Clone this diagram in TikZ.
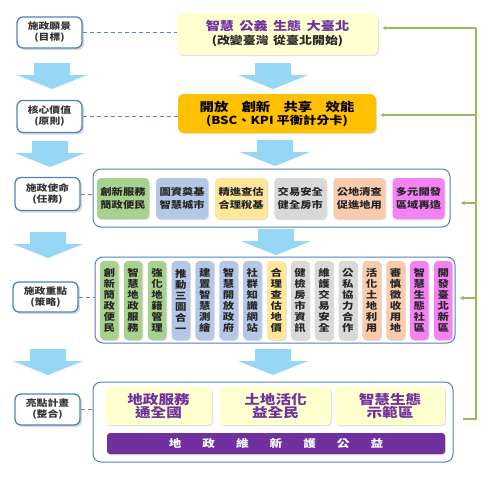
\documentclass[tikz,border=0pt]{standalone}
\usepackage{fontspec}
\setmainfont{Noto Sans CJK TC}[FakeStretch=1.2]
\usetikzlibrary{shadows,arrows.meta}

\definecolor{labelblue}{RGB}{79,129,189}
\definecolor{dashblue}{RGB}{100,130,190}
\definecolor{arrowblue}{RGB}{150,215,245}
\definecolor{gline}{RGB}{155,187,89}
\definecolor{visionfill}{RGB}{255,255,208}
\definecolor{valuesfill}{RGB}{255,192,0}
\definecolor{vpurple}{RGB}{112,48,160}
\definecolor{cgreen}{RGB}{169,209,142}
\definecolor{cblue}{RGB}{180,199,231}
\definecolor{cyellow}{RGB}{255,230,153}
\definecolor{cgray}{RGB}{217,217,217}
\definecolor{corange}{RGB}{248,203,173}
\definecolor{cpink}{RGB}{245,130,245}

% big light blue arrow pointing down: centre x, top y
\newcommand{\bigdown}[2]{%
  \fill[arrowblue] ({#1-18},#2) -- ({#1+18},#2) -- ({#1+18},{#2+12}) -- ({#1+35},{#2+12})
    -- (#1,{#2+26}) -- ({#1-35},{#2+12}) -- ({#1-18},{#2+12}) -- cycle;}

\begin{document}
\begin{tikzpicture}[x=1pt,y=-1pt,
  lab/.style={draw=labelblue, line width=1.3pt, rounded corners=6pt, fill=white,
    minimum width=65pt, inner sep=0pt, align=center, text=black!80,
    font=\bfseries\fontsize{9}{11}\selectfont,
    drop shadow={shadow xshift=2pt, shadow yshift=-2pt, fill=black!30}},
  frame/.style={draw=labelblue, line width=1pt, rounded corners=8pt, fill=white, inner sep=0pt},
  tile/.style={rounded corners=4pt, inner sep=0pt, align=center, text=black!85,
    drop shadow={shadow xshift=1pt, shadow yshift=-1pt, fill=black!25}},
  link/.style={dashblue, line width=0.9pt, dash pattern=on 4pt off 3pt},
  back/.style={gline, line width=1.5pt, -{Latex[length=4pt,width=4.5pt]}},
]
  \useasboundingbox (0,0) rectangle (496,479);

  \bigdown{52}{63}
  \bigdown{273}{63}
  \bigdown{50}{141}
  \bigdown{275}{140}
  \bigdown{48}{232}
  \bigdown{276}{229}
  \bigdown{48}{349}
  \bigdown{273}{349}

  \node[lab, minimum height=31pt] (lb1) at (49.5,32.5) {施政願景\\(目標)};
  \node[lab, minimum height=32pt] (lb2) at (49.5,116.5) {核心價值\\(原則)};
  \node[lab, minimum height=33pt] (lb3) at (47.5,194) {施政使命\\(任務)};
  \node[lab, minimum height=30pt] (lb4) at (45.5,297) {施政重點\\(策略)};
  \node[lab, minimum height=31pt] (lb5) at (47.5,409.5) {亮點計畫\\(整合)};

  \node[tile, fill=visionfill, rounded corners=6pt, minimum width=201pt, minimum height=42pt,
    font=\bfseries\fontsize{10.8}{12}\selectfont] (vision) at (277.5,34)
    {{\color{vpurple}\fontsize{11.8}{13}\selectfont 智慧\hspace{0.45em}公義\hspace{0.45em}生態\hspace{0.45em}大臺北}\\[2pt]
     (改變臺灣\hspace{0.4em}從臺北開始)};
  \node[tile, fill=valuesfill, text=black, rounded corners=6pt, minimum width=198pt, minimum height=39pt,
    font=\bfseries\fontsize{11}{12}\selectfont] (values) at (277,113.5)
    {{\fontsize{12}{13}\selectfont 開放\hspace{1.1em}創新\hspace{1.1em}共享\hspace{1.1em}效能}\\[1pt]
     (BSC、KPI 平衡計分卡)};

  \node[frame, minimum width=357pt, minimum height=58pt] (mission) at (271.5,198) {};
  \foreach \txt/\col [count=\i from 0] in {創新服務\\簡政便民/cgreen, 圖資奠基\\智慧城市/cblue,
      精進查估\\合理稅基/cyellow, 交易安全\\健全房市/cgray, 公地清查\\促進地用/corange,
      多元開發\\區域再造/cpink}
    \node[tile, fill=\col, minimum width=52pt, minimum height=41pt,
      font=\bfseries\fontsize{9.4}{13}\selectfont] (m\i) at ({123+59.1*\i},198.5) {\txt};

  \node[frame, minimum width=360pt, minimum height=86pt] (strategy) at (275,300) {};
  \foreach \txt/\col [count=\i from 0] in {創\\新\\簡\\政\\便\\民/cgreen, 智\\慧\\地\\政\\服\\務/cgreen,
      強\\化\\地\\籍\\管\\理/cgreen, 推\\動\\三\\圖\\合\\一/cblue, 建\\置\\智\\慧\\測\\繪/cblue,
      智\\慧\\開\\放\\政\\府/cblue, 社\\群\\知\\識\\網\\站/cblue, 合\\理\\查\\估\\地\\價/cyellow,
      健\\檢\\房\\市\\資\\訊/cgray, 維\\護\\交\\易\\安\\全/cgray, 公\\私\\協\\力\\合\\作/cgray,
      活\\化\\土\\地\\利\\用/corange, 審\\慎\\徵\\收\\用\\地/corange, 智\\慧\\生\\態\\社\\區/cpink,
      開\\發\\臺\\北\\新\\區/cpink}
    \node[tile, fill=\col, minimum width=18.5pt, minimum height=79pt,
      font=\bfseries\fontsize{9.5}{11}\selectfont] (s\i) at ({109.3+23.85*\i},300.5) {\txt};

  \node[frame, minimum width=360pt, minimum height=80pt] (plans) at (273,422) {};
  \node[tile, fill=visionfill, text=vpurple, minimum width=107pt, minimum height=38pt,
    font=\bfseries\fontsize{13}{12.5}\selectfont] (p1) at (158.5,406) {地政服務\\通全國};
  \node[tile, fill=visionfill, text=vpurple, minimum width=111pt, minimum height=38pt,
    font=\bfseries\fontsize{13}{12.5}\selectfont] (p2) at (275.5,406) {土地活化\\益全民};
  \node[tile, fill=visionfill, text=vpurple, minimum width=110pt, minimum height=38pt,
    font=\bfseries\fontsize{13}{12.5}\selectfont] (p3) at (390,406) {智慧生態\\示範區};
  \node[tile, fill=vpurple, text=white, rounded corners=3pt, minimum width=338pt, minimum height=21pt,
    font=\bfseries\fontsize{10.5}{12}\selectfont] (bar) at (276,443.5)
    {地\hspace{21pt}政\hspace{21pt}維\hspace{21pt}新\hspace{21pt}護\hspace{21pt}公\hspace{21pt}益};

  \draw[link] (lb1.east) -- (lb1.east -| vision.west);
  \draw[link] (lb2.east) -- (lb2.east -| values.west);
  \draw[link] (lb3.east) -- (lb3.east -| mission.west);
  \draw[link] (lb4.east) -- (lb4.east -| strategy.west);
  \draw[link] (lb5.east) -- (lb5.east -| plans.west);

  \coordinate (gb) at (463,419);
  \coordinate (gc) at (476,419);
  \coordinate (g1) at (476,28);
  \coordinate (g2) at (476,115);
  \coordinate (g3) at (476,203);
  \coordinate (g4) at (476,298);
  \draw[gline, line width=1.5pt] (gb) -- (gc) -- (g1);
  \draw[back] (g1) -- ([xshift=4pt]vision.east |- g1);
  \draw[back] (g2) -- ([xshift=4pt]values.east |- g2);
  \draw[back] (g3) -- ([xshift=10pt]mission.east |- g3);
  \draw[back] (g4) -- ([xshift=4pt]strategy.east |- g4);
\end{tikzpicture}
\end{document}
